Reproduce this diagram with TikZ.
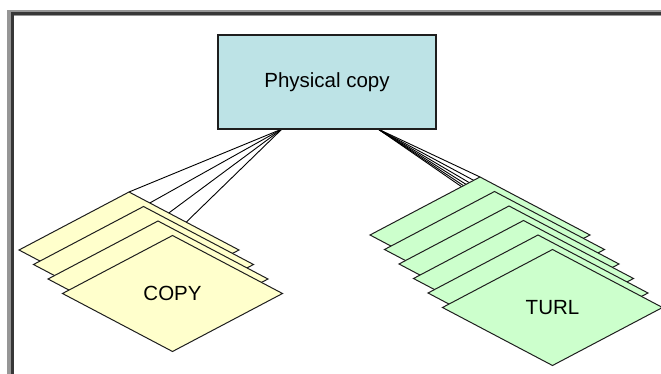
\documentclass[tikz,border=0pt]{standalone}
\usepackage{fontspec}
\setmainfont{Liberation Sans}
\usetikzlibrary{shapes.geometric,backgrounds}

\definecolor{boxblue}{RGB}{189,227,230}
\definecolor{pageyellow}{RGB}{255,255,204}
\definecolor{pagegreen}{RGB}{204,255,204}
\definecolor{framegray}{RGB}{150,150,150}
\definecolor{framedark}{RGB}{55,55,55}
\definecolor{inkline}{RGB}{30,30,30}

\tikzset{
  hubbox/.style={draw=inkline, line width=1.2pt, fill=boxblue, rectangle,
    minimum width=218pt, minimum height=94pt, inner sep=0pt, outer sep=0pt,
    font=\fontsize{20.5pt}{24pt}\selectfont},
  sheet/.style={draw=inkline, line width=1pt, diamond, inner sep=0pt, outer sep=0pt,
    minimum width=220pt, minimum height=116pt,
    font=\fontsize{20.5pt}{24pt}\selectfont},
  copysheet/.style={sheet, fill=pageyellow},
  turlsheet/.style={sheet, fill=pagegreen},
  link/.style={draw=black, line width=0.9pt}
}

\begin{document}
\begin{tikzpicture}[x=1pt,y=-1pt]
  \useasboundingbox (0,0) rectangle (661,374);
  \clip (0,0) rectangle (661,374);

  % top box
  \node[hubbox] (box) at (327,82) {Physical copy};
  \coordinate (hl) at ([xshift=-45pt]box.south);
  \coordinate (hr) at ([xshift=51pt]box.south);

  % COPY stack, back to front
  \foreach \k in {0,...,3} {
    \node[copysheet] (c\k) at ({129+14.5*\k},{250+14.5*\k}) {};
  }
  \node at (c3.center) [font=\fontsize{20.5pt}{24pt}\selectfont] {COPY};

  % TURL stack, back to front
  \foreach \k in {0,...,5} {
    \node[turlsheet] (t\k) at ({480+14.5*\k},{235+14.5*\k}) {};
  }
  \node at (t5.center) [font=\fontsize{20.5pt}{24pt}\selectfont] {TURL};

  \begin{scope}[on background layer]
    % outer frame
    \draw[framegray, line width=6pt] (10,1000) -- (10,13) -- (1000,13);
    \draw[framedark, line width=2.5pt] (12.5,1000) -- (12.5,13.5) -- (1000,13.5);
    % links from the box to each sheet
    \foreach \k in {0,...,3} { \draw[link] (hl) -- (c\k.north); }
    \foreach \k in {0,...,5} { \draw[link] (hr) -- (t\k.north); }
  \end{scope}
\end{tikzpicture}
\end{document}
